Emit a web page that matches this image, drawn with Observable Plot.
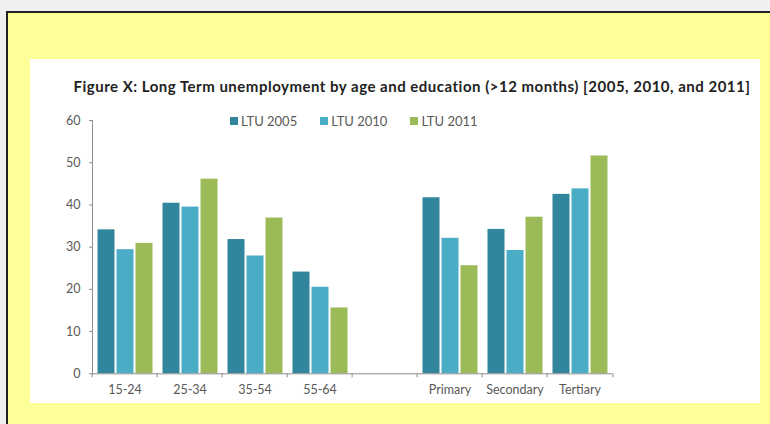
<!DOCTYPE html>
<html><head><meta charset="utf-8">
<script src="https://cdn.jsdelivr.net/npm/d3@7"></script>
<script src="https://cdn.jsdelivr.net/npm/@observablehq/plot@0.6"></script>
<style>
body{margin:0;background:#f0f0f0;width:770px;height:424px;overflow:hidden;position:relative;font-family:Lato,sans-serif}
#box{position:absolute;left:6px;top:11px;width:800px;height:500px;background:#ffff99;border:2px solid #222;box-sizing:border-box}
#panel{position:absolute;left:30px;top:59px;width:730px;height:344px;background:#fff}
#title{position:absolute;left:47px;width:730px;top:77px;text-align:center;font-weight:bold;font-size:15px;letter-spacing:0.5px;color:#222;white-space:nowrap}
#chart{position:absolute;left:30px;top:100px}
#legend{position:absolute;left:230px;top:104px}
#legend .lg-swatch{margin-right:23px !important}
#legend .lg-swatch svg{margin-right:3px !important}
</style></head>
<body>
<div id="box"></div>
<div id="panel"></div>
<div id="title">Figure X: Long Term unemployment by age and education (&gt;12 months) [2005, 2010, and 2011]</div>
<div id="legend"></div>
<div id="chart"></div>
<script>
const categories = ["15-24","25-34","35-54","55-64"," ","Primary","Secondary","Tertiary"];
const series = ["LTU 2005","LTU 2010","LTU 2011"];
const ltu2005 = [34.1,40.4,31.8,24.1,null,41.7,34.2,42.5];
const ltu2010 = [29.4,39.5,27.9,20.5,null,32.1,29.2,43.8];
const ltu2011 = [30.9,46.1,36.9,15.6,null,25.6,37.1,51.6];
const yTicks = [0,10,20,30,40,50,60];
const colors = ["#31859c","#4bacc6","#9bbb59"];

const values = [ltu2005, ltu2010, ltu2011];
const rows = [];
categories.forEach((c,i)=>series.forEach((s,k)=>{
  if (values[k][i] != null) rows.push({cat:c, series:s, value:values[k][i]});
}));

const W = 730, ML = 59.5, MR = 144.7;
const step = (W - ML - MR) / categories.length;
const axisColor = "#8c8c8c";

const chart = Plot.plot({
  width: W, height: 303,
  marginLeft: ML, marginRight: MR, marginTop: 20, marginBottom: 29.7,
  style: {fontFamily: "Lato, sans-serif", fontSize: "12.5px", color: "#595959", background: "transparent", overflow: "visible"},
  fx: {domain: categories, paddingInner: 0, paddingOuter: 0, label: null},
  x: {domain: series, paddingInner: 0.12, paddingOuter: 0.236, axis: null},
  y: {domain: [0, 60], label: null},
  color: {domain: series, range: colors},
  marks: [
    Plot.barY(rows, {fx: "cat", x: "series", y: "value", fill: "series"}),
    Plot.ruleY(categories, {fx: d => d, y: 0, stroke: axisColor}),
    Plot.frame({anchor: "left", stroke: axisColor, facetAnchor: "left"}),
    Plot.axisY({ticks: yTicks, tickSize: 3, tickPadding: 9, stroke: axisColor, label: null}),
    Plot.axisFx({anchor: "bottom", tickSize: 0, tickPadding: 11, label: null}),
    Plot.axisFx({anchor: "bottom", text: null, tickSize: 4, dx: -step / 2, stroke: axisColor, label: null}),
    Plot.axisFx({anchor: "bottom", ticks: ["Tertiary"], text: null, tickSize: 4, dx: step / 2, stroke: axisColor, label: null})
  ]
});
document.getElementById("chart").append(chart);

const legend = Plot.legend({
  color: {domain: series, range: colors},
  swatchSize: 8,
  className: "lg",
  style: {fontFamily: "Lato, sans-serif", fontSize: "13px", color: "#595959"}
});
document.getElementById("legend").append(legend);
</script>
</body></html>
